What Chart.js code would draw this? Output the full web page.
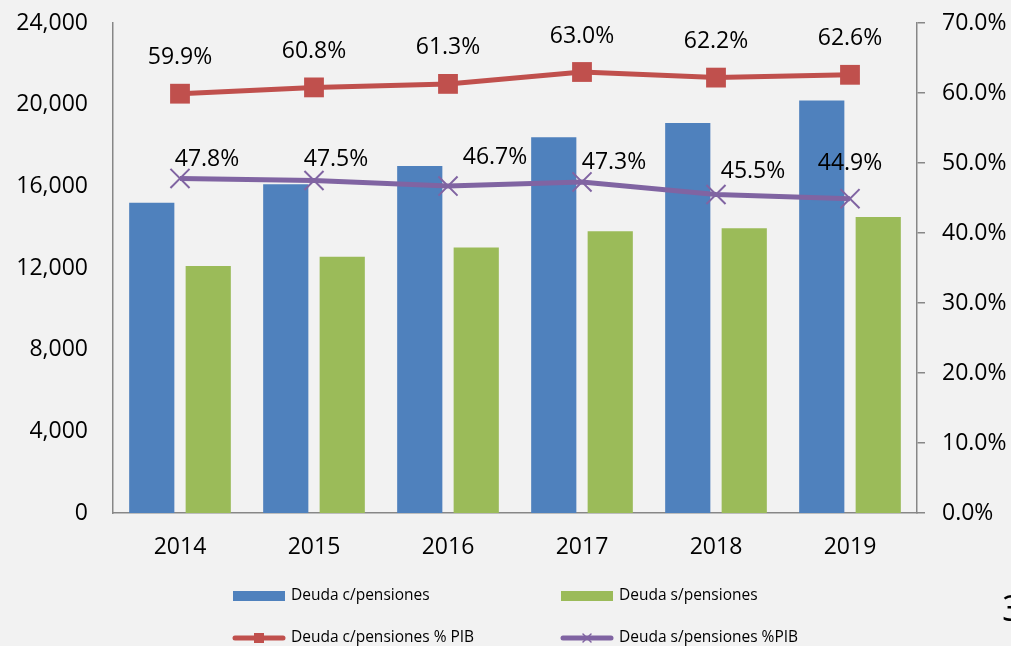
<!DOCTYPE html>
<html>
<head>
<meta charset="utf-8">
<script src="https://cdn.jsdelivr.net/npm/chart.js@4.4.0/dist/chart.umd.min.js"></script>
<style>
  html, body { margin: 0; padding: 0; background: #f2f2f2; }
  #wrap { position: relative; width: 1011px; height: 646px; overflow: hidden; }
  #pg { position: absolute; left: 1002px; top: 583px; font: 36px "Open Sans"; color: #000; }
</style>
</head>
<body>
<div id="wrap">
  <canvas id="chart" width="1011" height="646"></canvas>
  <div id="pg">3</div>
</div>
<script>
// datos
const years = ['2014', '2015', '2016', '2017', '2018', '2019'];
const deudaCon = [15200, 16100, 17000, 18400, 19100, 20200];
const deudaSin = [12100, 12550, 13000, 13800, 13950, 14500];
const pibCon = [59.9, 60.8, 61.3, 63.0, 62.2, 62.6];
const pibSin = [47.8, 47.5, 46.7, 47.3, 45.5, 44.9];
const leftMax = 24000, leftStep = 4000;
const rightMax = 70, rightStep = 10;

const FONT = '"Open Sans", sans-serif';
const AXIS = '#878787';

// posicion de las etiquetas (a mano, como en el original)
const conLabelDy = -36;
const sinLabelDx = [27, 22, 47, 32, 37, 0];
const sinLabelDy = [-19, -21, -29, -19, -23, -35];

const labelsPlugin = {
  id: 'pctLabels',
  afterDatasetsDraw(chart) {
    const ctx = chart.ctx;
    ctx.save();
    ctx.font = '23px ' + FONT;
    ctx.fillStyle = '#000';
    ctx.textAlign = 'center';
    ctx.textBaseline = 'middle';
    chart.getDatasetMeta(0).data.forEach((pt, i) => {
      ctx.fillText(pibCon[i].toFixed(1) + '%', pt.x, pt.y + conLabelDy);
    });
    chart.getDatasetMeta(1).data.forEach((pt, i) => {
      ctx.fillText(pibSin[i].toFixed(1) + '%', pt.x + sinLabelDx[i], pt.y + sinLabelDy[i]);
    });
    ctx.restore();
  }
};

// leyenda 2x2 dibujada a mano
const legendPlugin = {
  id: 'gridLegend',
  afterDraw(chart) {
    const ctx = chart.ctx;
    const order = [2, 3, 0, 1];
    const cols = [233, 561], rows = [596, 638];
    ctx.save();
    ctx.font = '15.5px ' + FONT;
    ctx.textBaseline = 'middle';
    order.forEach((di, k) => {
      const ds = chart.data.datasets[di];
      const x = cols[k % 2], y = rows[Math.floor(k / 2)];
      if (ds.type === 'bar') {
        ctx.fillStyle = ds.backgroundColor;
        ctx.fillRect(x, y - 5, 52, 10);
      } else {
        ctx.strokeStyle = ds.borderColor;
        ctx.lineWidth = 5;
        ctx.lineCap = 'round';
        ctx.beginPath(); ctx.moveTo(x + 2, y); ctx.lineTo(x + 50, y); ctx.stroke();
        if (ds.pointStyle === 'rect') {
          ctx.fillStyle = ds.borderColor;
          ctx.fillRect(x + 21, y - 5, 10, 10);
        } else {
          ctx.lineWidth = 1.5;
          ctx.beginPath();
          ctx.moveTo(x + 22, y - 4); ctx.lineTo(x + 30, y + 4);
          ctx.moveTo(x + 22, y + 4); ctx.lineTo(x + 30, y - 4);
          ctx.stroke();
        }
      }
      ctx.fillStyle = '#000';
      ctx.fillText(ds.label, x + 58, y);
    });
    ctx.restore();
  }
};

function fitVertical(width) {
  return s => { s.width = width; s.paddingTop = 0; s.paddingBottom = 0; };
}

function draw() {
  new Chart(document.getElementById('chart'), {
    data: {
      labels: years,
      datasets: [
        {
          type: 'line', label: 'Deuda c/pensiones % PIB', data: pibCon, yAxisID: 'y1',
          borderColor: '#C0504D', backgroundColor: '#C0504D', borderWidth: 5,
          pointStyle: 'rect', pointRadius: 14, pointBackgroundColor: '#C0504D',
          pointBorderColor: '#C0504D', pointBorderWidth: 0, tension: 0, order: 1
        },
        {
          type: 'line', label: 'Deuda s/pensiones %PIB', data: pibSin, yAxisID: 'y1',
          borderColor: '#8064A2', backgroundColor: '#8064A2', borderWidth: 5,
          pointStyle: 'crossRot', pointRadius: 13.5, pointBorderColor: '#8064A2',
          pointBorderWidth: 2, tension: 0, order: 1
        },
        {
          type: 'bar', label: 'Deuda c/pensiones', data: deudaCon, yAxisID: 'y',
          backgroundColor: '#4F81BD', barPercentage: 0.8, categoryPercentage: 0.843, order: 2
        },
        {
          type: 'bar', label: 'Deuda s/pensiones', data: deudaSin, yAxisID: 'y',
          backgroundColor: '#9BBB59', barPercentage: 0.8, categoryPercentage: 0.843, order: 2
        }
      ]
    },
    options: {
      responsive: false,
      animation: false,
      devicePixelRatio: 1,
      layout: { autoPadding: false, padding: { top: 23, left: 0, right: 0, bottom: 0 } },
      plugins: { legend: { display: false }, tooltip: { enabled: false } },
      scales: {
        x: {
          grid: { display: false, drawTicks: false },
          border: { display: true, color: AXIS, width: 1.5 },
          ticks: { font: { family: FONT, size: 23 }, color: '#000', padding: 21 },
          afterFit(s) { s.height = 133; }
        },
        y: {
          position: 'left', min: 0, max: leftMax,
          grid: { display: false, drawTicks: false },
          border: { display: true, color: AXIS, width: 1.5 },
          ticks: {
            stepSize: leftStep, font: { family: FONT, size: 23 }, color: '#000', padding: 25,
            callback: v => v.toLocaleString('en-US')
          },
          afterFit: fitVertical(113)
        },
        y1: {
          position: 'right', min: 0, max: rightMax,
          grid: { display: true, drawOnChartArea: false, drawTicks: true, tickLength: 8, color: AXIS, lineWidth: 1.5 },
          border: { display: true, color: AXIS, width: 1.5 },
          ticks: {
            stepSize: rightStep, font: { family: FONT, size: 23 }, color: '#000', padding: 17,
            callback: v => v.toFixed(1) + '%'
          },
          afterFit: fitVertical(94)
        }
      }
    },
    plugins: [labelsPlugin, legendPlugin]
  });
}

document.fonts.load('23px "Open Sans"').then(draw, draw);
</script>
</body>
</html>
